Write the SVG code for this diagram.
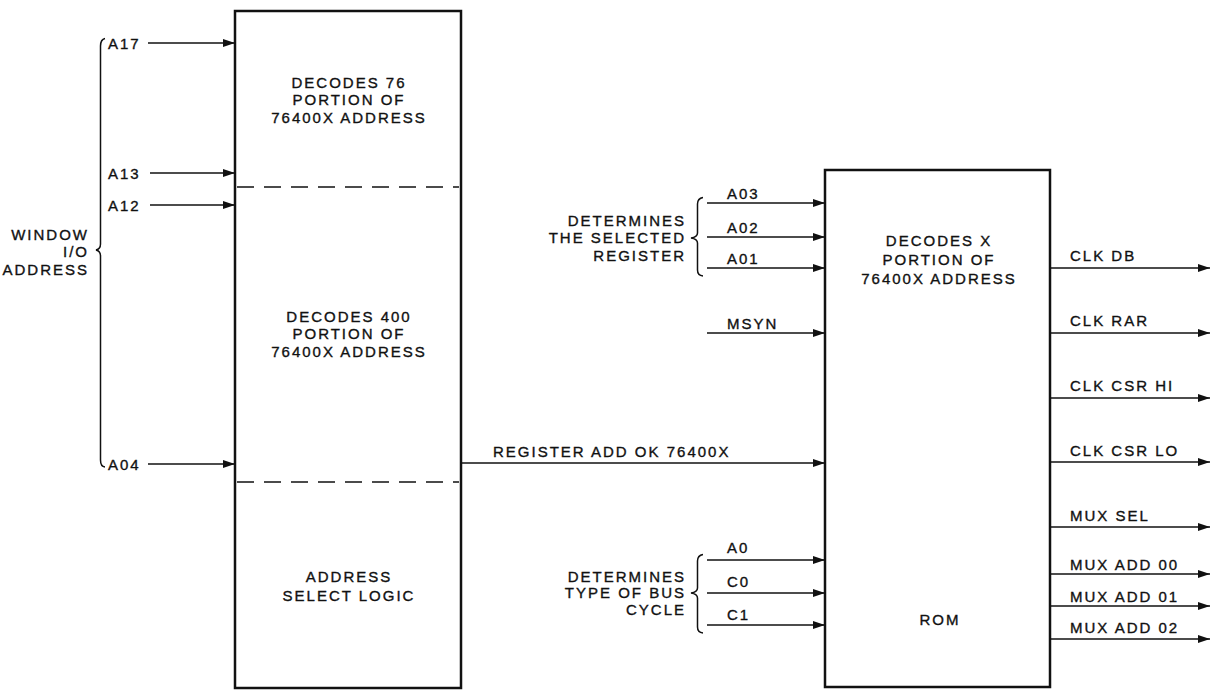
<svg xmlns="http://www.w3.org/2000/svg" width="1211" height="690" viewBox="0 0 1211 690">
<defs>
<marker id="arr" markerUnits="userSpaceOnUse" markerWidth="13" markerHeight="9" refX="12" refY="4.5" orient="auto">
<path d="M0,0.5 L12,4.5 L0,8.5 z" fill="#111"/>
</marker>
</defs>
<style>
text{font-family:"Liberation Sans",Arial,sans-serif;font-size:15px;fill:#111;letter-spacing:2px;stroke:#111;stroke-width:0.35}
.m{text-anchor:middle}
.r{text-anchor:end}
.box{fill:#fff;stroke:#111;stroke-width:2.5}
.dash{stroke:#111;stroke-width:1.5;stroke-dasharray:17,10;fill:none}
.w{stroke:#111;stroke-width:1.5;fill:none}
.a{stroke:#111;stroke-width:1.5;fill:none;marker-end:url(#arr)}
</style>
<rect width="1211" height="690" fill="#fff"/>

<g id="left-box">
<rect class="box" x="235" y="11" width="226" height="677"/>
<line class="dash" x1="237" y1="187" x2="459" y2="187"/>
<line class="dash" x1="237" y1="482" x2="459" y2="482"/>
<text class="m" x="349" y="88">DECODES 76</text>
<text class="m" x="349" y="105">PORTION OF</text>
<text class="m" x="349" y="123">76400X ADDRESS</text>
<text class="m" x="349" y="322">DECODES 400</text>
<text class="m" x="349" y="339">PORTION OF</text>
<text class="m" x="349" y="357">76400X ADDRESS</text>
<text class="m" x="349" y="582">ADDRESS</text>
<text class="m" x="349" y="601">SELECT LOGIC</text>
</g>

<g id="right-box">
<rect class="box" x="825" y="170" width="225" height="517"/>
<text class="m" x="939" y="246">DECODES X</text>
<text class="m" x="939" y="265">PORTION OF</text>
<text class="m" x="939" y="284">76400X ADDRESS</text>
<text class="m" x="940" y="625">ROM</text>
</g>

<g id="window-io-address">
<path class="w" d="M105,38.5 Q100.5,39.5 100.5,46 L100.5,244 Q100.5,249 96,250 Q100.5,251 100.5,256 L100.5,460 Q100.5,466.5 105,467"/>
<text class="r" x="89" y="240">WINDOW</text>
<text class="r" x="89" y="257">I/O</text>
<text class="r" x="89" y="275">ADDRESS</text>
</g>

<g id="select-register">
<path class="w" d="M703,197.5 Q697.5,198.5 697.5,204 L697.5,233 Q697.5,237 691,238 Q697.5,239 697.5,243 L697.5,270 Q697.5,275.5 703,276"/>
<text class="r" x="686" y="226">DETERMINES</text>
<text class="r" x="686" y="243">THE SELECTED</text>
<text class="r" x="686" y="261">REGISTER</text>
</g>

<g id="bus-cycle">
<path class="w" d="M703,554.5 Q697.5,555.5 697.5,561 L697.5,588 Q697.5,592 691,593 Q697.5,594 697.5,598 L697.5,627 Q697.5,632.5 703,633"/>
<text class="r" x="686" y="582">DETERMINES</text>
<text class="r" x="686" y="598">TYPE OF BUS</text>
<text class="r" x="686" y="615">CYCLE</text>
</g>

<g id="connectors">
<line class="a" x1="148" y1="43" x2="235" y2="43"/>
<line class="a" x1="150" y1="173" x2="235" y2="173"/>
<line class="a" x1="150" y1="205" x2="235" y2="205"/>
<line class="a" x1="148" y1="464" x2="235" y2="464"/>
<line class="a" x1="461" y1="463" x2="825" y2="463"/>
<line class="a" x1="707" y1="203" x2="825" y2="203"/>
<line class="a" x1="707" y1="237" x2="825" y2="237"/>
<line class="a" x1="707" y1="268" x2="825" y2="268"/>
<line class="a" x1="707" y1="333" x2="825" y2="333"/>
<line class="a" x1="707" y1="560" x2="825" y2="560"/>
<line class="a" x1="707" y1="593" x2="825" y2="593"/>
<line class="a" x1="707" y1="625" x2="825" y2="625"/>
<line class="a" x1="1050" y1="268" x2="1210" y2="268"/>
<line class="a" x1="1050" y1="333" x2="1210" y2="333"/>
<line class="a" x1="1050" y1="398" x2="1210" y2="398"/>
<line class="a" x1="1050" y1="462" x2="1210" y2="462"/>
<line class="a" x1="1050" y1="527" x2="1210" y2="527"/>
<line class="a" x1="1050" y1="574" x2="1210" y2="574"/>
<line class="a" x1="1050" y1="606" x2="1210" y2="606"/>
<line class="a" x1="1050" y1="639" x2="1210" y2="639"/>
</g>

<g id="labels">
<text x="108" y="49">A17</text>
<text x="108" y="179">A13</text>
<text x="108" y="211">A12</text>
<text x="108" y="470">A04</text>
<text x="493" y="457">REGISTER ADD OK 76400X</text>
<text x="727" y="199">A03</text>
<text x="727" y="233">A02</text>
<text x="727" y="264">A01</text>
<text x="727" y="329">MSYN</text>
<text x="727" y="553">A0</text>
<text x="727" y="587">C0</text>
<text x="727" y="620">C1</text>
<text x="1070" y="261">CLK DB</text>
<text x="1070" y="326">CLK RAR</text>
<text x="1070" y="391">CLK CSR HI</text>
<text x="1070" y="456">CLK CSR LO</text>
<text x="1070" y="521">MUX SEL</text>
<text x="1070" y="570">MUX ADD 00</text>
<text x="1070" y="602">MUX ADD 01</text>
<text x="1070" y="633">MUX ADD 02</text>
</g>
</svg>
